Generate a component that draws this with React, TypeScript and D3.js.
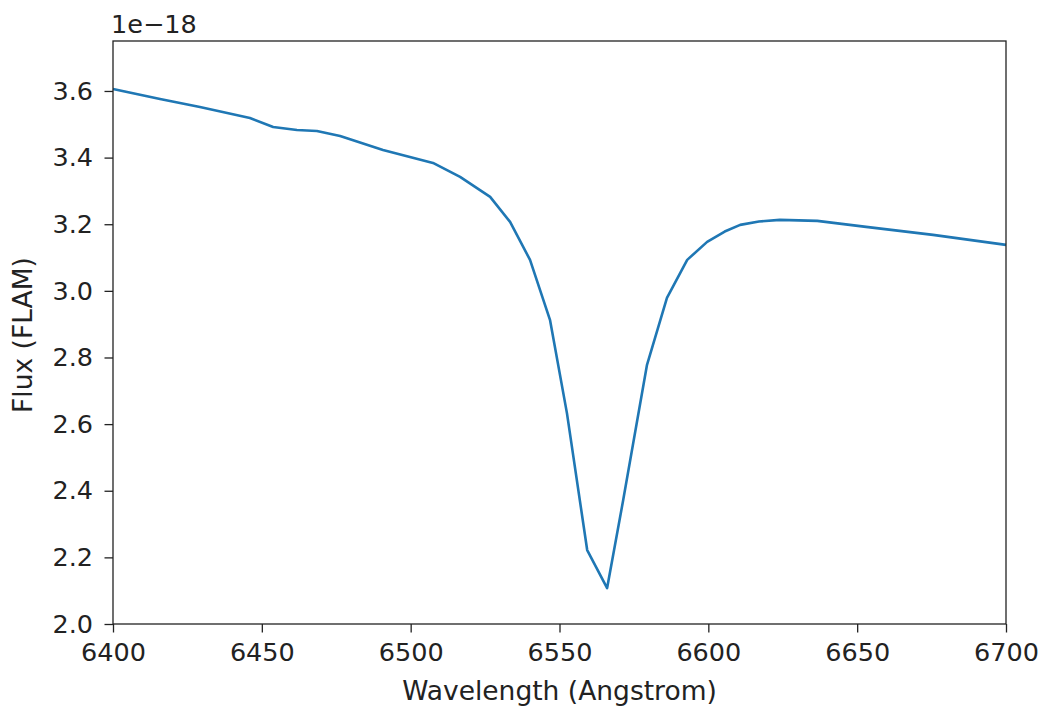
import React, { useEffect, useRef } from "react";
import * as d3 from "d3";

// wavelength samples (Angstrom) and flux values (x 1e-18 FLAM)
const wavelength = [
  6400, 6415.8, 6429.2, 6446, 6453.8, 6461.8, 6468.5, 6476.3, 6490.7, 6507.5,
  6516.6, 6526.7, 6533.4, 6540.1, 6546.8, 6552.5, 6559.3, 6566, 6571.4, 6579.4,
  6586.1, 6592.9, 6599.6, 6605.5, 6610.7, 6617, 6624, 6636.6, 6653, 6675.5, 6700,
];
const flux = [
  3.606, 3.576, 3.552, 3.519, 3.492, 3.483, 3.48, 3.465, 3.423, 3.384,
  3.342, 3.282, 3.207, 3.093, 2.913, 2.633, 2.222, 2.108, 2.372, 2.778,
  2.979, 3.093, 3.147, 3.178, 3.198, 3.208, 3.213, 3.21, 3.192, 3.168, 3.138,
];
const xTicks = [6400, 6450, 6500, 6550, 6600, 6650, 6700];
const yTicks = [2.0, 2.2, 2.4, 2.6, 2.8, 3.0, 3.2, 3.4, 3.6];

const W = 1044;
const H = 710;

export default function App() {
  const svgRef = useRef<SVGSVGElement>(null);

  useEffect(() => {
    document.body.style.margin = "0";
    const svg = d3.select(svgRef.current);
    svg.selectAll("*").remove();

    const left = 113;
    const right = 1006;
    const top = 41;
    const bottom = 624;
    const font = "'DejaVu Sans', sans-serif";
    const fontSize = "25.5px";
    const labelSize = "26.5px";
    const ink = "#222";

    const x = d3.scaleLinear().domain([6400, 6700]).range([left, right]);
    const y = d3.scaleLinear().domain([2.0, 3.75]).range([bottom, top]);

    //line
    const line = d3
      .line<number>()
      .x((d, i) => x(wavelength[i]))
      .y((d) => y(d));
    svg
      .append("path")
      .datum(flux)
      .attr("fill", "none")
      .attr("stroke", "#1f77b4")
      .attr("stroke-width", 2.6)
      .attr("stroke-linejoin", "round")
      .attr("d", line);

    //axes
    const xAxis = svg
      .append("g")
      .attr("transform", `translate(0, ${bottom})`)
      .call(
        d3
          .axisBottom(x)
          .tickValues(xTicks)
          .tickFormat(d3.format("d"))
          .tickSize(8.5)
          .tickSizeOuter(0)
          .tickPadding(10.5)
      );
    const yAxis = svg
      .append("g")
      .attr("transform", `translate(${left}, 0)`)
      .call(
        d3
          .axisLeft(y)
          .tickValues(yTicks)
          .tickFormat(d3.format(".1f"))
          .tickSize(8.5)
          .tickSizeOuter(0)
          .tickPadding(11.5)
      );
    [xAxis, yAxis].forEach((g) => {
      g.select(".domain").remove();
      g.selectAll("line").attr("stroke", ink).attr("stroke-width", 1.3);
      g.selectAll("text")
        .attr("fill", ink)
        .style("font-family", font)
        .style("font-size", fontSize);
    });

    //frame
    svg
      .append("rect")
      .attr("x", left)
      .attr("y", top)
      .attr("width", right - left)
      .attr("height", bottom - top)
      .attr("fill", "none")
      .attr("stroke", ink)
      .attr("stroke-width", 1.3);

    //labels
    svg
      .append("text")
      .attr("x", (left + right) / 2)
      .attr("y", 700)
      .attr("text-anchor", "middle")
      .attr("fill", ink)
      .style("font-family", font)
      .style("font-size", labelSize)
      .text("Wavelength (Angstrom)");
    svg
      .append("text")
      .attr("transform", `translate(32, 335) rotate(-90)`)
      .attr("text-anchor", "middle")
      .attr("fill", ink)
      .style("font-family", font)
      .style("font-size", labelSize)
      .text("Flux (FLAM)");
    svg
      .append("text")
      .attr("x", left - 2)
      .attr("y", 33)
      .attr("fill", ink)
      .style("font-family", font)
      .style("font-size", fontSize)
      .text("1e\u221218");
  }, []);

  return (
    <svg
      ref={svgRef}
      width={W}
      height={H}
      style={{ display: "block", background: "#fff" }}
    ></svg>
  );
}
